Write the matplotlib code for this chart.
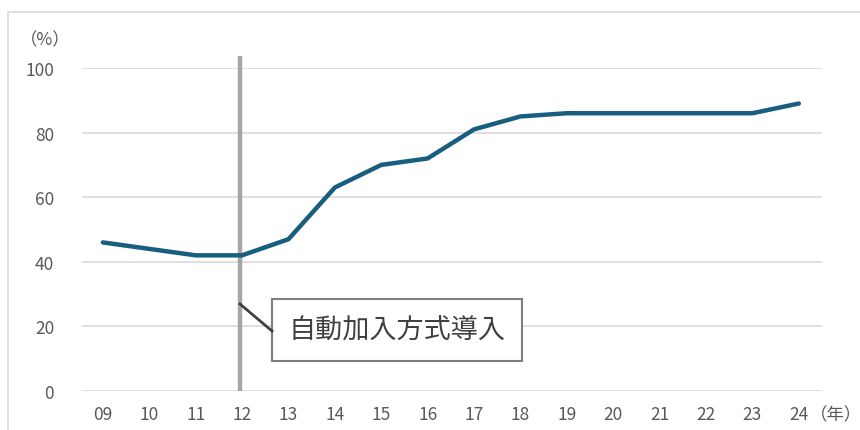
import matplotlib
matplotlib.use("Agg")
import matplotlib.pyplot as plt
from matplotlib.patches import Rectangle
from matplotlib.lines import Line2D

plt.rcParams['font.family'] = ['Noto Sans CJK JP', 'DejaVu Sans']

years = ["09", "10", "11", "12", "13", "14", "15", "16", "17", "18", "19", "20", "21", "22", "23", "24"]
rates = [46, 44, 42, 42, 47, 63, 70, 72, 81, 85, 86, 86, 86, 86, 86, 89]
yticks = [0, 20, 40, 60, 80, 100]
event_year = "12"
event_label = "自動加入方式導入"

W, H = 860, 431
fig = plt.figure(figsize=(W / 100, H / 100), dpi=100)
ax = fig.add_axes([82 / W, 1 - 392 / H, (822 - 82) / W, (392 - 69) / H])

x = list(range(len(years)))
ax.plot(x, rates, color="#175E7F", lw=3.2, solid_joinstyle="miter", solid_capstyle="round", zorder=3)

ax.set_xlim(-0.45, len(years) - 0.5)
ax.set_ylim(0, 100)
ax.set_yticks(yticks)
ax.set_xticks(x)
ax.set_xticklabels(years)
for yv in yticks:
    ax.axhline(yv, color="#d9d9d9", lw=1.2, zorder=1)
for s in ax.spines.values():
    s.set_visible(False)
ax.tick_params(length=0, labelsize=12.5, colors="#595959", pad=10)
ax.tick_params(axis="y", pad=20)

ex = years.index(event_year) - 0.04
ax.plot([ex, ex], [0, 103.7], color="#a6a6a6", lw=3.2, clip_on=False, zorder=2,
        solid_capstyle="butt")

def fx(px):
    return px / W

def fy(py):
    return 1 - py / H

# connector and label box (figure pixels)
fig.lines.append(Line2D([fx(240), fx(272)], [fy(305), fy(332)], transform=fig.transFigure,
                        color="#404040", lw=2, figure=fig))
fig.patches.append(Rectangle((fx(272), fy(362)), fx(522) - fx(272), fy(300) - fy(362),
                             transform=fig.transFigure, fc="white", ec="#7f7f7f", lw=1.5, figure=fig))
fig.text(fx(397), fy(331), event_label, fontsize=19.5, color="#404040", ha="center", va="center")

fig.text(fx(20), fy(40), "（%）", fontsize=12.5, color="#595959", ha="left", va="center")
fig.text(fx(810), fy(415), "（年）", fontsize=12.5, color="#595959", ha="left", va="center")

fig.patches.append(Rectangle((fx(8), -0.1), 1.2, fy(13) + 0.1, transform=fig.transFigure,
                             fill=False, ec="#d9d9d9", lw=1.2, figure=fig))

fig.savefig("out.png", dpi=100)
